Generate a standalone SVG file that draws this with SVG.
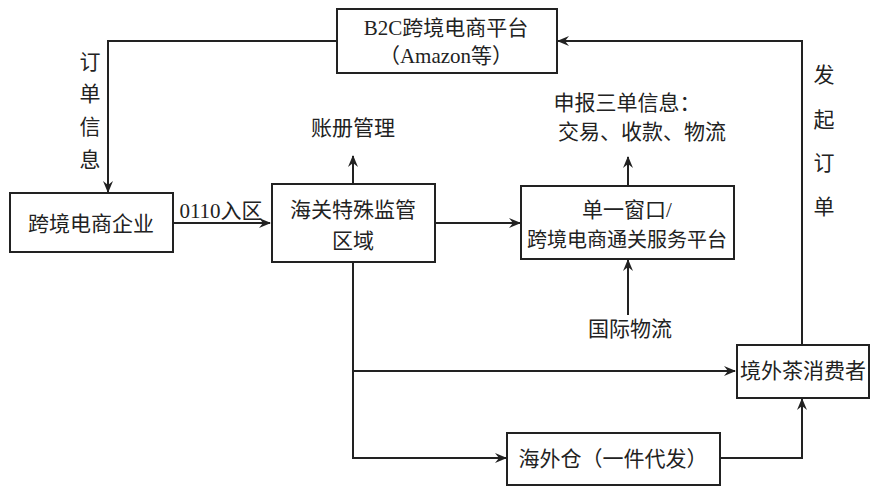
<svg xmlns="http://www.w3.org/2000/svg" width="873" height="489" viewBox="0 0 873 489">
<defs>
<marker id="ah" viewBox="0 0 12 10" refX="11" refY="5" markerWidth="12" markerHeight="10" markerUnits="userSpaceOnUse" orient="auto">
<path d="M0,0 L12,5 L0,10 L4,5 z" fill="#222"/>
</marker>
<style>
.box{fill:#fff;stroke:#222;stroke-width:2}
.ln{fill:none;stroke:#222;stroke-width:2}
.t{font-family:"Liberation Serif","Noto Sans CJK SC",serif;font-size:21px;fill:#222;text-anchor:middle;dominant-baseline:central}
</style>
</defs>
<rect width="873" height="489" fill="#fff"/>
<g id="connectors">
<path class="ln" d="M337,41 H108 V192" marker-end="url(#ah)"/>
<path class="ln" d="M173,223 H270" marker-end="url(#ah)"/>
<path class="ln" d="M353,184 V156" marker-end="url(#ah)"/>
<path class="ln" d="M435,223 H520" marker-end="url(#ah)"/>
<path class="ln" d="M628,186 V157" marker-end="url(#ah)"/>
<path class="ln" d="M628,315 V260" marker-end="url(#ah)"/>
<path class="ln" d="M353,262 V458 H506" marker-end="url(#ah)"/>
<path class="ln" d="M353,371 H735" marker-end="url(#ah)"/>
<path class="ln" d="M720,458 H802 V399" marker-end="url(#ah)"/>
<path class="ln" d="M802,345 V41 H558" marker-end="url(#ah)"/>
</g>
<g id="labels">
<text class="t" x="90" y="62">订</text>
<text class="t" x="90" y="94">单</text>
<text class="t" x="90" y="127">信</text>
<text class="t" x="90" y="160">息</text>
<text class="t" x="221" y="211">0110入区</text>
<text class="t" x="353" y="128">账册管理</text>
<text class="t" x="627" y="103">申报三单信息：</text>
<text class="t" x="642" y="132">交易、收款、物流</text>
<text class="t" x="630" y="329">国际物流</text>
<text class="t" x="824" y="75">发</text>
<text class="t" x="824" y="120">起</text>
<text class="t" x="824" y="163">订</text>
<text class="t" x="824" y="207">单</text>
</g>
<g id="b2c">
<rect class="box" x="337" y="9" width="220" height="64"/>
<text class="t" x="446" y="28">B2C跨境电商平台</text>
<text class="t" x="446" y="56">（Amazon等）</text>
</g>
<g id="enterprise">
<rect class="box" x="10" y="193" width="163" height="59"/>
<text class="t" x="91" y="224">跨境电商企业</text>
</g>
<g id="customs">
<rect class="box" x="272" y="184" width="163" height="78"/>
<text class="t" x="353" y="210">海关特殊监管</text>
<text class="t" x="353" y="241">区域</text>
</g>
<g id="window">
<rect class="box" x="521" y="186" width="213" height="73"/>
<text class="t" x="627" y="210">单一窗口/</text>
<text class="t" x="627" y="240" style="font-size:20px">跨境电商通关服务平台</text>
</g>
<g id="consumer">
<rect class="box" x="737" y="345" width="132" height="53"/>
<text class="t" x="803" y="371">境外茶消费者</text>
</g>
<g id="warehouse">
<rect class="box" x="507" y="433" width="213" height="52"/>
<text class="t" x="613" y="459">海外仓（一件代发）</text>
</g>
</svg>
